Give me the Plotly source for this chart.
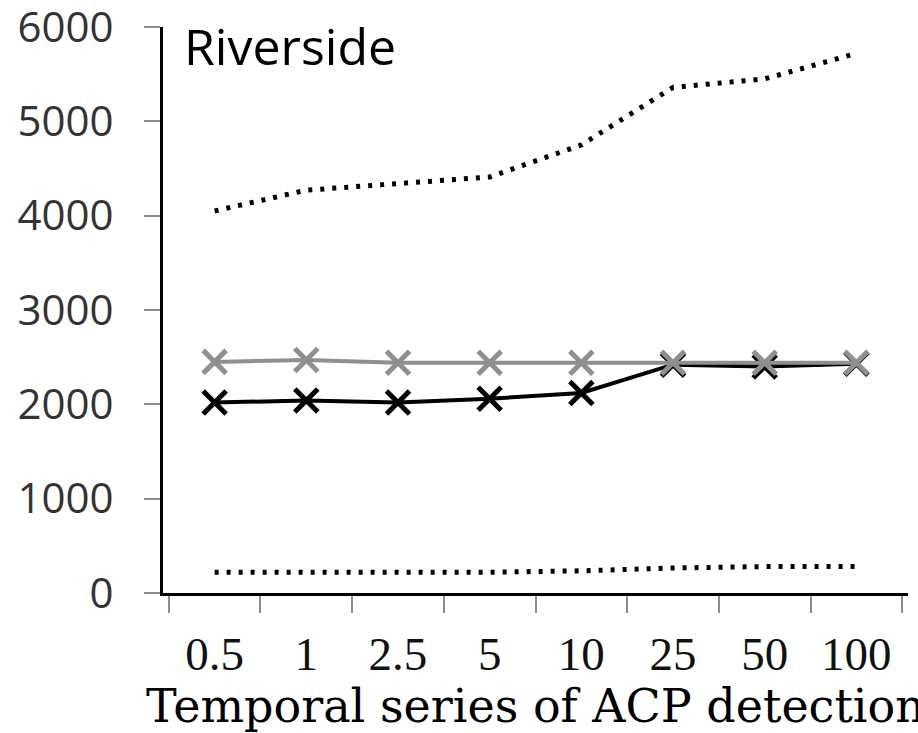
import plotly.graph_objects as go

categories = ["0.5", "1", "2.5", "5", "10", "25", "50", "100"]
upper_dotted = [4050, 4270, 4340, 4410, 4750, 5360, 5450, 5720]
gray_series = [2450, 2470, 2440, 2440, 2440, 2440, 2440, 2440]
black_series = [2020, 2040, 2020, 2060, 2120, 2420, 2400, 2430]
lower_dotted = [220, 220, 220, 220, 235, 265, 280, 280]

sans = "Open Sans, Liberation Sans, sans-serif"

fig = go.Figure()
for vals in (upper_dotted, lower_dotted):
    fig.add_trace(go.Scatter(
        x=categories, y=vals, mode="lines",
        line=dict(color="black", width=5, dash="4px,8px"),
        showlegend=False,
    ))
fig.add_trace(go.Scatter(
    x=categories, y=black_series, mode="lines+markers",
    line=dict(color="black", width=4),
    marker=dict(symbol="x-thin", size=23, line=dict(color="black", width=5)),
    showlegend=False,
))
fig.add_trace(go.Scatter(
    x=categories, y=gray_series, mode="lines+markers",
    line=dict(color="#8f8f8f", width=4),
    marker=dict(symbol="x-thin", size=23, line=dict(color="#8f8f8f", width=5)),
    showlegend=False,
))

fig.add_annotation(
    text="Riverside", xref="paper", yref="paper", x=0.025, y=1.03,
    xanchor="left", yanchor="top", showarrow=False,
    font=dict(family=sans, size=50, color="black"),
)

fig.update_layout(
    width=918, height=733,
    paper_bgcolor="white", plot_bgcolor="white",
    margin=dict(l=163, r=10, t=27, b=140),
    xaxis=dict(
        type="category", showgrid=False, showline=True, linecolor="black", linewidth=3,
        ticks="outside", tickson="boundaries", ticklen=17, tickwidth=2, tickcolor="#8c8c8c",
        tickfont=dict(family="Liberation Serif, serif", size=47, color="#111111"),
        ticklabelstandoff=18, automargin=False,
        title=dict(text="Temporal series of ACP detection", standoff=4,
                   font=dict(family="DejaVu Serif, serif", size=46, color="black")),
    ),
    yaxis=dict(
        range=[0, 6000], dtick=1000, showgrid=False, zeroline=False,
        showline=True, linecolor="black", linewidth=3, automargin=False,
        ticks="outside", ticklen=16, tickwidth=2, tickcolor="#8c8c8c",
        tickfont=dict(family=sans, size=42, color="#333333"), ticklabelstandoff=22,
        ticklabeloverflow="allow",
    ),
)

fig.write_html("out.html", config={"displayModeBar": False},
               post_script="document.body.style.margin='0px';")
